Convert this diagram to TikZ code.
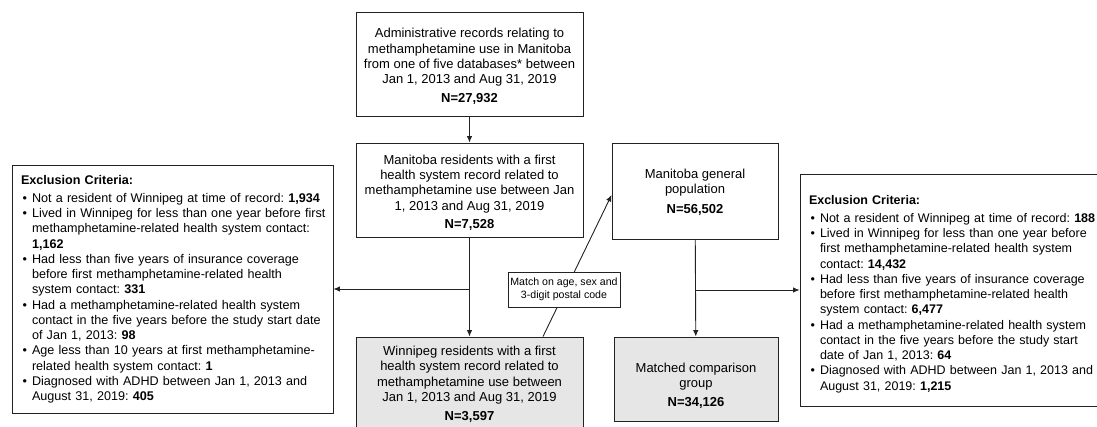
\documentclass[tikz,border=0pt]{standalone}
\usepackage{fontspec}
\setmainfont{Liberation Sans}
\usetikzlibrary{arrows.meta,calc}
\frenchspacing
\definecolor{boxgray}{HTML}{E6E6E6}
\definecolor{linec}{HTML}{222222}
\newenvironment{critlist}{\begin{list}{\textbullet}{\setlength\leftmargin{11pt}\setlength\labelwidth{6pt}\setlength\labelsep{5pt}\setlength\rightmargin{-30pt}\setlength\itemsep{0pt}\setlength\parsep{0pt}\setlength\topsep{3pt}\setlength\partopsep{0pt}}}{\end{list}}
\tikzset{
  box/.style={draw=linec, line width=0.9pt, align=center, inner sep=0pt,
    font=\fontsize{13}{15.3}\selectfont},
  graybox/.style={box, fill=boxgray},
  critbox/.style={draw=linec, line width=0.9pt, align=left, inner xsep=9pt, inner ysep=0pt,
    font=\fontsize{12.6}{15.25}\selectfont},
  matchbox/.style={draw=linec, line width=0.8pt, fill=white, align=center, inner sep=0pt,
    font=\fontsize{10.6}{13}\selectfont},
  arr/.style={draw=linec, line width=0.9pt, -{Latex[length=6.5pt,width=5.5pt]}}
}
\begin{document}
\begin{tikzpicture}[x=1pt,y=-1pt]
\useasboundingbox (0,0) rectangle (1097,427);
\node[box, minimum width=227, minimum height=104] (top) at (469.5,64)
  {\rule{0pt}{14pt}Administrative records relating to\\methamphetamine use in Manitoba\\from one of five databases* between\\Jan 1, 2013 and Aug 31, 2019\\[3pt]\textbf{N=27,932}};
\node[box, minimum width=227, minimum height=94] (b2) at (469.5,190)
  {\rule{0pt}{15pt}Manitoba residents with a first\\health system record related to\\methamphetamine use between Jan\\1, 2013 and Aug 31, 2019\\[3pt]\textbf{N=7,528}};
\node[box, minimum width=166, minimum height=96] (gen) at (695,191)
  {\rule{0pt}{12pt}Manitoba general\\population\\[4pt]\textbf{N=56,502}};
\node[graybox, minimum width=227, minimum height=95] (win) at (469.5,384.5)
  {Winnipeg residents with a first\\health system record related to\\methamphetamine use between\\Jan 1, 2013 and Aug 31, 2019\\[4pt]\textbf{N=3,597}};
\node[graybox, minimum width=164, minimum height=84] (matched) at (696,379)
  {\rule{0pt}{23pt}Matched comparison\\group\\[4pt]\textbf{N=34,126}};
\node[critbox, text width=303, minimum height=248] (left) at (172.5,289)
  {\textbf{Exclusion Criteria:}
   \begin{critlist}
   \item Not a resident of Winnipeg at time of record: \textbf{1,934}
   \item Lived in Winnipeg for less than one year before first\\methamphetamine-related health system contact:\\\textbf{1,162}
   \item Had less than five years of insurance coverage\\before first methamphetamine-related health\\system contact: \textbf{331}
   \item Had a methamphetamine-related health system\\contact in the five years before the study start date\\of Jan 1, 2013: \textbf{98}
   \item Age less than 10 years at first methamphetamine-\\related health system contact: \textbf{1}
   \item Diagnosed with ADHD between Jan 1, 2013 and\\August 31, 2019: \textbf{405}
   \end{critlist}};
\node[critbox, text width=287, minimum height=232, font=\fontsize{12.5}{15.25}\selectfont] (right) at (952.5,290)
  {\rule{0pt}{17pt}\textbf{Exclusion Criteria:}
   \begin{critlist}
   \item Not a resident of Winnipeg at time of record: \textbf{188}
   \item Lived in Winnipeg for less than one year before\\first methamphetamine-related health system\\contact: \textbf{14,432}
   \item Had less than five years of insurance coverage\\before first methamphetamine-related health\\system contact: \textbf{6,477}
   \item Had a methamphetamine-related health system\\contact in the five years before the study start\\date of Jan 1, 2013: \textbf{64}
   \item Diagnosed with ADHD between Jan 1, 2013 and\\August 31, 2019: \textbf{1,215}
   \end{critlist}};
\draw[arr] (top) -- (b2);
\draw[arr] (b2) -- (win);
\draw[arr] (gen) -- (matched);
\draw[arr] (b2.south |- left.east) -- (left.east);
\draw[arr] (gen.south |- right.west) -- (right.west);
\draw[arr] ([xshift=73.5pt]win.north) -- ([yshift=-4pt]gen.west);
\node[matchbox, minimum width=112, minimum height=35] (match) at (564,289.5)
  {Match on age, sex and\\3-digit postal code};
\end{tikzpicture}
\end{document}
